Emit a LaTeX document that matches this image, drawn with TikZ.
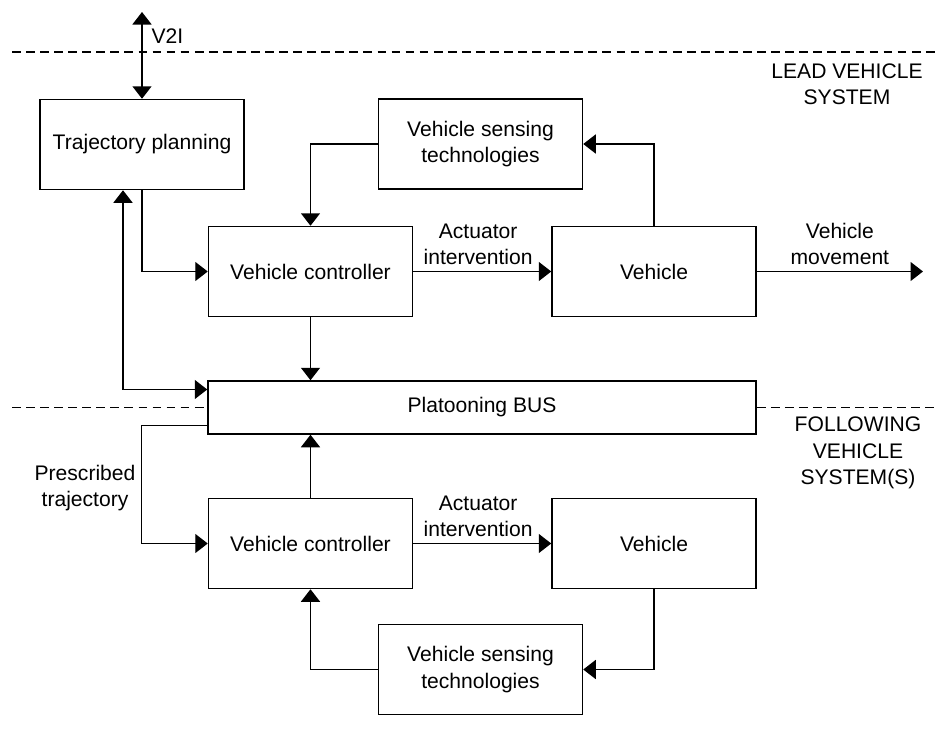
\documentclass[tikz,border=0pt]{standalone}
\usepackage{fontspec}
\setmainfont{Liberation Sans}
\usetikzlibrary{arrows.meta}

\begin{document}
\begin{tikzpicture}[
  x=0.2mm, y=-0.2mm,
  font=\fontsize{12pt}{15pt}\selectfont,
  block/.style={draw, line width=0.85pt, align=center, minimum width=40.8mm,
                minimum height=18mm, inner sep=1mm},
  link/.style={-{Triangle[length=2.5mm, width=3.8mm]}, line width=0.85pt},
  twoway/.style={{Triangle[length=2.5mm, width=3.8mm]}-{Triangle[length=2.5mm, width=3.8mm]},
                 line width=0.85pt},
  divider/.style={dash pattern=on 5pt off 3pt, line width=0.7pt},
  tag/.style={align=center, inner sep=3.5pt}
]
  \useasboundingbox (0,0) rectangle (939,747);

  \coordinate (v2i)  at (142,12);
  \coordinate (move) at (923,271.5);
  \coordinate (topL) at (12,52);
  \coordinate (topR) at (937,52);
  \coordinate (midL) at (12,407.5);
  \coordinate (midR) at (937,407.5);

  \node[block] (traj)  at (142,144.5) {Trajectory planning};
  \node[block] (sens1) at (480.5,144) {Vehicle sensing\\technologies};
  \node[block] (ctrl1) at (310.5,271.5) {Vehicle controller};
  \node[block] (veh1)  at (654,271.5) {Vehicle};
  \node[block, minimum width=109.6mm, minimum height=10.6mm] (bus) at (482,407.5) {Platooning BUS};
  \node[block] (ctrl2) at (310.5,543.5) {Vehicle controller};
  \node[block] (veh2)  at (654,543.5) {Vehicle};
  \node[block] (sens2) at (480.5,669.5) {Vehicle sensing\\technologies};

  \node[tag] (lead) at (847,84.5) {LEAD VEHICLE\\SYSTEM};
  \node[tag] (foll) at (858,453) {FOLLOWING\\VEHICLE\\SYSTEM(S)};
  \node[tag] (presc) at (85,488) {Prescribed\\trajectory};

  \draw[divider] (topL) -- (topR);
  \draw[divider] (midL) -- (bus.west);
  \draw[divider] (bus.east) -- (midR);

  \draw[twoway] (v2i) -- node[tag, anchor=west, pos=0.28, xshift=1.5pt] {V2I} (traj.north);
  \draw[link] (sens1.west) -| (ctrl1.north);
  \draw[link] (veh1.north) |- (sens1.east);
  \draw[link] (traj.south) |- (ctrl1.west);
  \draw[twoway] ([xshift=-3.8mm]traj.south) |- ([yshift=3.6mm]bus.west);
  \draw[link] (ctrl1.south) -- (ctrl1.south |- bus.north);
  \draw[link] (ctrl1.east) -- node[tag, above, pos=0.47] {Actuator\\intervention} (veh1.west);
  \draw[link] (veh1.east) -- node[tag, above] {Vehicle\\movement} (move);

  \draw[link] ([yshift=-3.6mm]bus.west) -- ++(-66,0) |- (ctrl2.west);
  \draw[link] (ctrl2.north) -- (ctrl2.north |- bus.south);
  \draw[link] (ctrl2.east) -- node[tag, above, pos=0.47] {Actuator\\intervention} (veh2.west);
  \draw[link] (veh2.south) |- (sens2.east);
  \draw[link] (sens2.west) -| (ctrl2.south);
\end{tikzpicture}
\end{document}
